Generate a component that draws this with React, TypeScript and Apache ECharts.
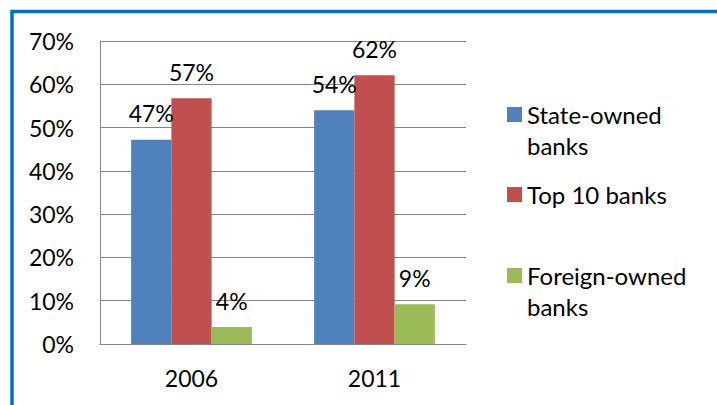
import React, { useEffect, useRef } from "react";
import * as echarts from "echarts";

const categories = ["2006", "2011"];
const stateOwned = [47.2, 54.0];
const top10 = [56.8, 62.1];
const foreignOwned = [3.9, 9.2];
const yTicks = { min: 0, max: 70, interval: 10 };

const FONT = "Lato";
const GRAY = "#868686";

export default function App() {
  const ref = useRef<HTMLDivElement>(null);
  useEffect(() => {
    if (!ref.current) return;
    const chart = echarts.init(ref.current, null, { renderer: "svg" });
    const label = {
      show: true,
      position: "top" as const,
      distance: 15,
      color: "#000",
      fontFamily: FONT,
      fontSize: 23,
      formatter: (p: any) => Math.round(p.value) + "%",
    };
    const legendText = {
      fontFamily: FONT,
      fontSize: 24,
      color: "#000",
      lineHeight: 31,
    };
    const legendBase = {
      orient: "vertical" as const,
      left: 507,
      padding: 0,
      itemWidth: 15,
      itemHeight: 15,
      icon: "rect",
      itemGap: 0,
      textStyle: legendText,
    };
    chart.setOption({
      animation: false,
      backgroundColor: "#fff",
      textStyle: { fontFamily: FONT },
      graphic: [
        {
          type: "rect",
          shape: { x: 12, y: 11.5, width: 760, height: 450 },
          style: { fill: "none", stroke: "#0070C0", lineWidth: 3.5 },
          silent: true,
          z: 100,
        },
      ],
      grid: { left: 100, right: 251, top: 41, bottom: 61 },
      legend: [
        {
          ...legendBase,
          top: 68,
          data: ["State-owned banks"],
          formatter: () => "\nState-owned\nbanks",
        },
        {
          ...legendBase,
          top: 179,
          data: ["Top 10 banks"],
        },
        {
          ...legendBase,
          top: 229,
          data: ["Foreign-owned banks"],
          formatter: () => "\nForeign-owned\nbanks",
        },
      ],
      xAxis: {
        type: "category",
        data: categories,
        axisLine: { show: true, lineStyle: { color: GRAY, width: 1 } },
        axisTick: { show: false },
        axisLabel: { color: "#000", fontFamily: FONT, fontSize: 23, margin: 22 },
      },
      yAxis: {
        type: "value",
        min: yTicks.min,
        max: yTicks.max,
        interval: yTicks.interval,
        axisLine: { show: true, lineStyle: { color: GRAY, width: 1 } },
        axisTick: { show: false },
        splitLine: { show: true, lineStyle: { color: GRAY, width: 1 } },
        axisLabel: {
          color: "#000",
          fontFamily: FONT,
          fontSize: 23,
          margin: 26,
          formatter: "{value}%",
        },
      },
      series: [
        {
          name: "State-owned banks",
          type: "bar",
          data: stateOwned,
          itemStyle: { color: "#4F81BD" },
          barGap: "0%",
          barCategoryGap: "34%",
          label,
        },
        {
          name: "Top 10 banks",
          type: "bar",
          data: top10,
          itemStyle: { color: "#C0504D" },
          label,
        },
        {
          name: "Foreign-owned banks",
          type: "bar",
          data: foreignOwned,
          itemStyle: { color: "#9BBB59" },
          label,
        },
      ],
    });
    return () => chart.dispose();
  }, []);
  return (
    <div
      ref={ref}
      style={{ position: "fixed", left: 0, top: 0, width: 717, height: 405 }}
    />
  );
}
